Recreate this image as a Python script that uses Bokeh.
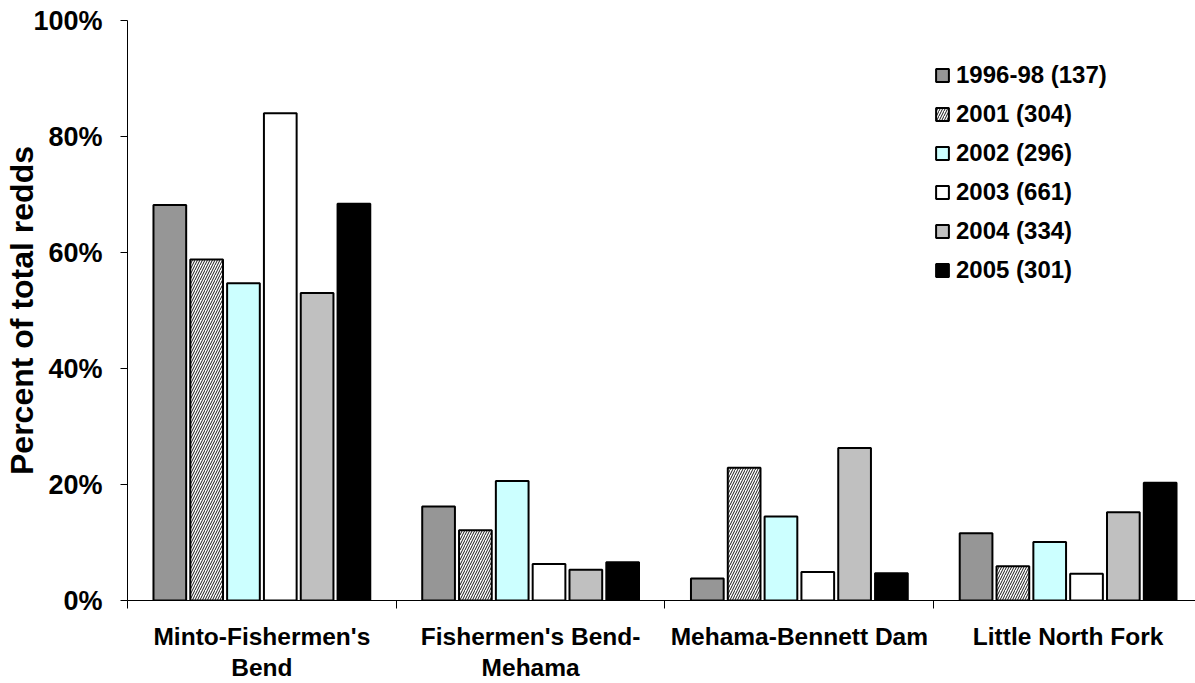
from bokeh.plotting import figure
from bokeh.models import FixedTicker, Legend, LegendItem, Range1d, ColumnDataSource
from bokeh.embed import file_html
from bokeh.resources import INLINE

# ---------------- data ----------------
categories = ["Minto-Fishermen's Bend", "Fishermen's Bend-Mehama",
              "Mehama-Bennett Dam", "Little North Fork"]
category_labels = ["Minto-Fishermen's\nBend", "Fishermen's Bend-\nMehama",
                   "Mehama-Bennett Dam", "Little North Fork"]
series_names = ["1996-98 (137)", "2001 (304)", "2002 (296)",
                "2003 (661)", "2004 (334)", "2005 (301)"]
pct_1996_98 = [68.2, 16.2, 3.8, 11.6]
pct_2001 = [58.8, 12.1, 22.9, 5.9]
pct_2002 = [54.7, 20.6, 14.5, 10.1]
pct_2003 = [84.0, 6.3, 4.9, 4.6]
pct_2004 = [53.0, 5.3, 26.3, 15.2]
pct_2005 = [68.4, 6.6, 4.7, 20.3]
y_ticks = [0, 20, 40, 60, 80, 100]
y_tick_labels = ["0%", "20%", "40%", "60%", "80%", "100%"]

series_values = [pct_1996_98, pct_2001, pct_2002, pct_2003, pct_2004, pct_2005]

# ---------------- styles ----------------
fills = ["#969696", "#ffffff", "#ccffff", "#ffffff", "#c0c0c0", "#000000"]
hatches = [None, "/", None, None, None, None]
FONT = "Liberation Sans"
pitch = 0.137
bar_w = 0.1217

p = figure(width=1195, height=683, output_backend="svg", toolbar_location=None,
           x_range=Range1d(0, 3.974), y_range=Range1d(0, 100),
           min_border_left=127, min_border_right=0, min_border_top=20,
           min_border_bottom=82)
p.outline_line_color = None
p.xgrid.visible = False
p.ygrid.visible = False

items = []
n = len(series_values)
for k, (name, vals) in enumerate(zip(series_names, series_values)):
    xs = [i + 0.5 + (k - (n - 1) / 2) * pitch for i in range(len(categories))]
    src = ColumnDataSource(dict(x=xs, top=vals, cat=categories))
    kw = dict(x="x", top="top", bottom=0, width=bar_w, source=src,
              fill_color=fills[k], line_color="black", line_width=2)
    if hatches[k]:
        kw.update(hatch_pattern=hatches[k], hatch_color="black",
                  hatch_scale=5, hatch_weight=1, hatch_alpha=0.9)
    r = p.vbar(**kw)
    items.append(LegendItem(label=name, renderers=[r]))

legend = Legend(items=items, location=(807, 311))
legend.padding = 0
legend.margin = 0
legend.spacing = 0
legend.label_height = 39
legend.glyph_width = 16
legend.glyph_height = 16
legend.label_standoff = 6
legend.label_text_font = FONT
legend.label_text_font_style = "bold"
legend.label_text_font_size = "24px"
legend.label_text_color = "black"
legend.border_line_alpha = 0
legend.background_fill_alpha = 0
p.add_layout(legend)

# y axis
ya = p.yaxis[0]
ya.ticker = FixedTicker(ticks=y_ticks)
ya.major_label_overrides = {t: l for t, l in zip(y_ticks, y_tick_labels)}
ya.major_label_text_font = FONT
ya.major_label_text_font_style = "bold"
ya.major_label_text_font_size = "27px"
ya.major_label_text_color = "black"
ya.major_tick_out = 7
ya.major_tick_in = 0
ya.minor_tick_out = 0
ya.minor_tick_in = 0
ya.major_label_standoff = 18
ya.axis_line_color = "black"
ya.major_tick_line_color = "black"
ya.axis_label = "Percent of total redds"
ya.axis_label_text_font = FONT
ya.axis_label_text_font_style = "bold"
ya.axis_label_text_font_size = "32px"
ya.axis_label_text_color = "black"
ya.axis_label_standoff = -10

# x axis
xa = p.xaxis[0]
centers = [i + 0.5 for i in range(len(categories))]
xa.ticker = FixedTicker(ticks=centers, minor_ticks=list(range(len(categories) + 1)))
xa.major_label_overrides = {c: l for c, l in zip(centers, category_labels)}
xa.major_label_text_font = FONT
xa.major_label_text_font_style = "bold"
xa.major_label_text_font_size = "24.5px"
xa.major_label_text_color = "black"
xa.major_label_text_line_height = 1.15
xa.major_tick_out = 0
xa.major_tick_in = 0
xa.minor_tick_out = 8
xa.minor_tick_in = 0
xa.minor_tick_line_color = "black"
xa.major_label_standoff = 14
xa.axis_line_color = "black"

open("out.html", "w").write(file_html(p, INLINE))
